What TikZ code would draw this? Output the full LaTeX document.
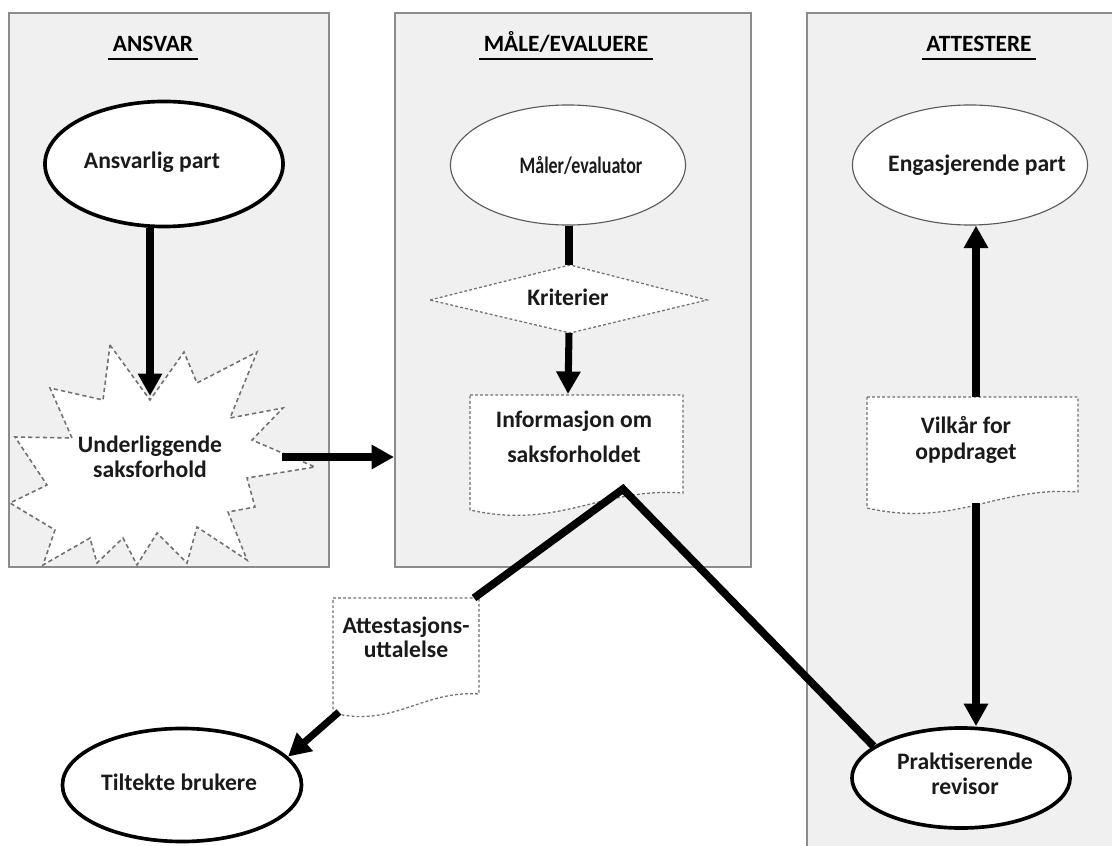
\documentclass[tikz,border=0pt]{standalone}
\usepackage{fontspec}
\setmainfont{Carlito}
\newfontfamily\narrowfont[FakeStretch=0.76]{Carlito}
\usetikzlibrary{arrows.meta,shapes.geometric,calc}

\definecolor{panelfill}{HTML}{F0F0F0}
\definecolor{panelline}{HTML}{8C8C8C}
\definecolor{dashgray}{HTML}{707070}
\definecolor{thingray}{HTML}{5A5A5A}
\definecolor{txt}{HTML}{1A1A1A}

\tikzset{
  panel/.style={fill=panelfill, draw=panelline, line width=1.5pt},
  lbl/.style={font=\bfseries\fontsize{16.8}{#1}\selectfont, text=txt, align=center, inner sep=0pt},
  lbl/.default=18,
  ttl/.style={font=\bfseries\fontsize{16.6}{18}\selectfont, text=black, inner sep=0pt, anchor=base},
  uline/.style={line width=1.8pt, black},
  boldell/.style={ellipse, draw=black, line width=2.6pt, fill=white, inner sep=0pt},
  thinell/.style={ellipse, draw=thingray, line width=0.8pt, fill=white, inner sep=0pt},
  docline/.style={draw=dashgray, fill=white, line width=0.9pt, dash pattern=on 2pt off 1.6pt},
  burstline/.style={draw=dashgray, fill=white, line width=1.1pt, dash pattern=on 3pt off 2.2pt},
  conn/.style={line width=5pt, black},
  arr/.style={conn, -{Triangle[width=16.5pt,length=16pt]}},
}

\begin{document}
\begin{tikzpicture}[x=0.025cm,y=-0.025cm]
\useasboundingbox (0,0) rectangle (1112,846);
\fill[white] (0,0) rectangle (1112,846);

% panels
\draw[panel] (9,13) rectangle (329,567);
\draw[panel] (395,13) rectangle (751,567);
\draw[panel] (807,13) rectangle (1130,870);

% titles
\node[ttl] (t1) at (153,52) {ANSVAR};
\node[ttl] (t2) at (566,52) {MÅLE/EVALUERE};
\node[ttl] (t3) at (979,52) {ATTESTERE};
\foreach \t in {t1,t2,t3}{
  \draw[uline] ([xshift=-3pt,yshift=-5pt]\t.base west) -- ([xshift=3pt,yshift=-5pt]\t.base east);
}

% ellipses
\node[boldell, minimum width=5.95cm, minimum height=3.125cm] (ansv) at (164,164) {};
\node[lbl] (ansvT) at (152,162) {Ansvarlig part};

\node[thinell, minimum width=5.875cm, minimum height=3.0cm] (maaler) at (568,165) {};
\node[lbl, font=\narrowfont\bfseries\fontsize{16.8}{18}\selectfont] (maalerT) at (581,165) {Måler/evaluator};

\node[thinell, minimum width=5.875cm, minimum height=3.0cm] (eng) at (970,165) {};
\node[lbl] (engT) at (977,165) {Engasjerende part};

\node[boldell, minimum width=5.45cm, minimum height=2.5cm] (prak) at (961,778) {};
\node[lbl=17.5] (prakT) at (965,774) {Praktiserende\\revisor};

\node[boldell, minimum width=5.975cm, minimum height=2.825cm] (tilt) at (182,785) {};
\node[lbl] (tiltT) at (179,782) {Tiltekte brukere};

% starburst
\draw[burstline] (110,345) -- (150,400) -- (184,352) -- (197,383) -- (257,352) -- (230,418)
  -- (283,408) -- (252,440) -- (315,467) -- (247,478) -- (255,507) -- (228,512) -- (247,560)
  -- (197,527) -- (187,563) -- (157,533) -- (137,565) -- (123,538) -- (97,563) -- (90,538)
  -- (43,565) -- (55,530) -- (10,503) -- (47,485) -- (15,437) -- (72,438) -- (50,388)
  -- (103,400) -- cycle;
\node[lbl=17.8] (burst) at (150,457) {Underliggende\\saksforhold};

% Kriterier diamond
\draw[docline] (430,300) -- (570,265) -- (707,300) -- (570,333) -- cycle;
\node[lbl] (krit) at (568,297) {Kriterier};
\coordinate (kritN) at (569,265);
\coordinate (kritS) at (569,333);

% document shapes
\draw[docline] (470,395) -- (683,395) -- (683,493) .. controls (600,487) and (560,530) .. (470,510) -- cycle;
\node[lbl=25] (info) at (574,437) {Informasjon om\\saksforholdet};

\draw[docline] (333,598) -- (479,598) -- (479,694) .. controls (422,690) and (394,728) .. (333,713) -- cycle;
\node[lbl=17] (att) at (406,637) {Attestasjons-\\uttalelse};

\draw[docline] (867,397) -- (1078,397) -- (1078,492) .. controls (996,486) and (956,528) .. (867,508) -- cycle;
\node[lbl=18.5] (vilk) at (966,440) {Vilkår for\\oppdraget};

% connector points
\coordinate (burstTop) at (150,396);
\coordinate (burstR) at (282,457);
\coordinate (p2W) at (394,457);
\coordinate (infoN) at (568,394);
\coordinate (junc) at (623,489);
\coordinate (attTR) at (474,598);
\coordinate (attBL) at (339,712);
\coordinate (vT) at (976,397);
\coordinate (vB) at (976,503);

% connectors
\draw[arr] (ansv.south -| burstTop) -- (burstTop);
\draw[arr] (burstR) -- (p2W);
\draw[conn] (maaler.south -| kritN) -- (kritN);
\draw[arr] (kritS) -- (infoN);
\draw[conn, line width=5.5pt, line join=miter] (attTR) -- (junc) -- (prak.160);
\draw[arr] (attBL) -- (tilt.15);
\draw[arr] (vT) -- (vT |- eng.south);
\draw[arr] (vB) -- (vB |- prak.north);
\end{tikzpicture}
\end{document}
